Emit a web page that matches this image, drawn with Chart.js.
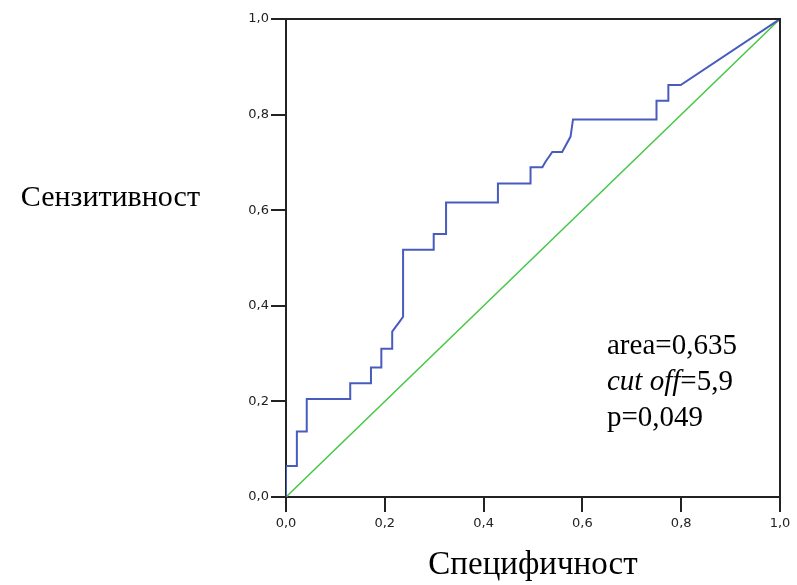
<!DOCTYPE html>
<html>
<head>
<meta charset="utf-8">
<script src="https://cdn.jsdelivr.net/npm/chart.js@4.4.1/dist/chart.umd.min.js"></script>
<style>
    html, body { margin: 0; padding: 0; background: #fff; }
    #wrap { width: 797px; height: 585px; }
</style>
</head>
<body>
<div id="wrap"><canvas id="rocChart" width="797" height="585"></canvas></div>
<script>
// ROC крива - 1-специфичност (x) и сензитивност (y), прочитано од сликата
const specX = [0, 0, 0.022, 0.022, 0.042, 0.042, 0.13, 0.13, 0.172, 0.172, 0.193, 0.193, 0.215, 0.215,
    0.222, 0.230, 0.237, 0.237, 0.299, 0.299, 0.324, 0.324, 0.429, 0.429, 0.495, 0.495, 0.519, 0.525,
    0.539, 0.559, 0.576, 0.581, 0.750, 0.750, 0.774, 0.774, 0.799, 1.0];
const sensY = [0, 0.065, 0.065, 0.137, 0.137, 0.205, 0.205, 0.238, 0.238, 0.271, 0.271, 0.31, 0.31, 0.346,
    0.356, 0.367, 0.377, 0.517, 0.517, 0.55, 0.55, 0.616, 0.616, 0.656, 0.656, 0.690, 0.690, 0.701,
    0.722, 0.722, 0.754, 0.79, 0.79, 0.829, 0.829, 0.862, 0.862, 1.0];

// референтна линија (дијагонала)
const refX = [0, 1];
const refY = [0, 1];

const tickValues = [0, 0.2, 0.4, 0.6, 0.8, 1.0];
const yTitle = 'Сензитивност';
const xTitle = 'Специфичност';
const statLines = [
    { label: 'area', value: '0,635', italic: false },
    { label: 'cut off', value: '5,9', italic: true },
    { label: 'p', value: '0,049', italic: false }
];

const serif = '"Liberation Serif", "Times New Roman", serif';

function toPoints(xs, ys) {
    let pts = [];
    for (let i = 0; i < xs.length; i++) {
        pts.push({ x: xs[i], y: ys[i] });
    }
    return pts;
}

// plugin за рамката, насловот на y оската и текстот со статистиката
const extraText = {
    id: 'extraText',
    afterDraw(chart) {
        const ctx = chart.ctx;
        const a = chart.chartArea;
        ctx.save();
        ctx.strokeStyle = '#222';
        ctx.lineWidth = 2;
        ctx.beginPath();
        ctx.moveTo(a.left, a.top);
        ctx.lineTo(a.right, a.top);
        ctx.lineTo(a.right, a.bottom);
        ctx.stroke();

        ctx.fillStyle = '#000';
        ctx.textBaseline = 'middle';
        ctx.font = '30px ' + serif;
        ctx.textAlign = 'right';
        ctx.fillText(yTitle, 200, 198);

        // статистика
        ctx.textAlign = 'left';
        let y = 346;
        statLines.forEach(function (s) {
            let x = 607;
            ctx.font = (s.italic ? 'italic ' : '') + '29px ' + serif;
            ctx.fillText(s.label, x, y);
            x += ctx.measureText(s.label).width;
            ctx.font = '29px ' + serif;
            ctx.fillText('=' + s.value, x, y);
            y += 36;
        });
        ctx.restore();
    }
};

const tickFmt = v => v.toFixed(1).replace('.', ',');

const configRoc = {
    type: 'scatter',
    data: {
        datasets: [{
            label: 'ROC',
            data: toPoints(specX, sensY),
            showLine: true,
            borderColor: 'rgb(72,92,190)',
            borderWidth: 2,
            pointRadius: 0,
            tension: 0
        }, {
            label: 'Референтна',
            data: toPoints(refX, refY),
            showLine: true,
            borderColor: 'rgb(70,200,70)',
            borderWidth: 1.5,
            pointRadius: 0,
            tension: 0
        }]
    },
    options: {
        responsive: false,
        animation: false,
        layout: { padding: { top: 19, right: 17, left: 0, bottom: 0 } },
        plugins: {
            legend: { display: false },
            tooltip: { enabled: false }
        },
        scales: {
            x: {
                type: 'linear',
                min: 0,
                max: 1,
                afterFit: s => { s.height = 88; },
                afterBuildTicks: s => { s.ticks = tickValues.map(v => ({ value: v })); },
                border: { color: '#222', width: 2 },
                grid: { drawOnChartArea: false, color: '#222', lineWidth: 2, tickLength: 15 },
                ticks: {
                    callback: tickFmt,
                    color: '#222',
                    padding: 4,
                    maxRotation: 0,
                    font: { family: 'DejaVu Sans', size: 13 }
                },
                title: {
                    display: true,
                    text: xTitle,
                    color: '#000',
                    padding: { top: 10, bottom: 0 },
                    font: { family: serif, size: 33 }
                }
            },
            y: {
                type: 'linear',
                min: 0,
                max: 1,
                afterFit: s => { s.width = 286; },
                afterBuildTicks: s => { s.ticks = tickValues.map(v => ({ value: v })); },
                border: { color: '#222', width: 2 },
                grid: { drawOnChartArea: false, color: '#222', lineWidth: 2, tickLength: 15 },
                ticks: {
                    callback: tickFmt,
                    color: '#222',
                    padding: 2,
                    font: { family: 'DejaVu Sans', size: 13 }
                }
            }
        }
    },
    plugins: [extraText]
};

let myChartRoc = new Chart(document.getElementById('rocChart'), configRoc);
</script>
</body>
</html>
